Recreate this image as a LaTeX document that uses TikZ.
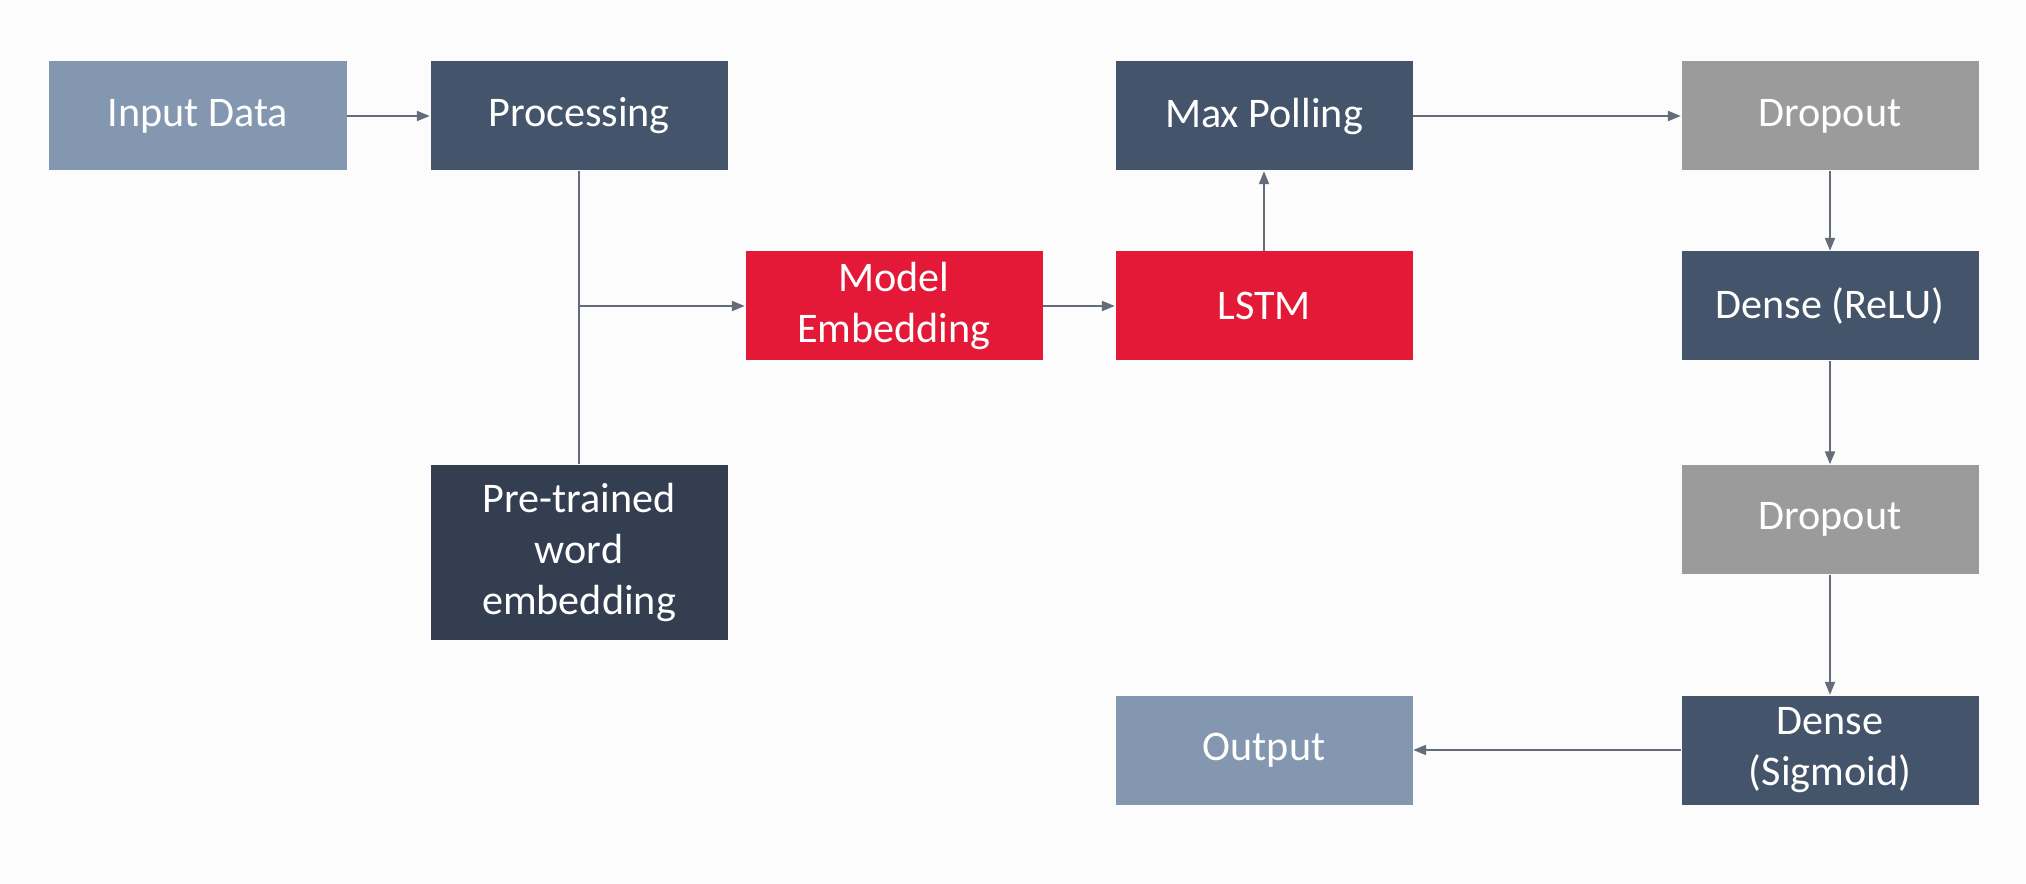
\documentclass[tikz,border=0pt]{standalone}
\usepackage{fontspec}
\setmainfont{Carlito}
\usetikzlibrary{arrows.meta}
\definecolor{slatelight}{HTML}{8497B0}
\definecolor{slatedark}{HTML}{44546A}
\definecolor{slatedeep}{HTML}{333F50}
\definecolor{layerred}{HTML}{E31937}
\definecolor{layergray}{HTML}{9B9B9B}
\definecolor{linkgray}{HTML}{646C7A}
\definecolor{pagebg}{HTML}{FCFCFC}
\begin{document}
\begin{tikzpicture}
[boxdecorate/.style={shape=rectangle,minimum width=2.97cm,minimum height=1.09cm,
  inner sep=0pt,align=center,text=white,font=\fontsize{12}{14.4}\selectfont},%
  linedecorate/.style={-,line width=0.6pt,draw=linkgray},%
  arrowdecorate/.style={-{Triangle[length=1.3mm,width=1mm]},line width=0.6pt,draw=linkgray,fill=linkgray}]
\useasboundingbox (0,0) rectangle (20.26,-8.84);
\fill[pagebg] (0,0) rectangle (20.26,-8.84);
%% nodes or layers
\foreach \nodename/\x/\y/\col/\txt in {input/1.98/-1.16/slatelight/Input Data,
  processing/5.79/-1.16/slatedark/Processing,
  embedding/8.94/-3.06/layerred/{Model\\Embedding},
  lstm/12.64/-3.06/layerred/LSTM, maxpool/12.64/-1.16/slatedark/Max Polling,
  dropoutA/18.30/-1.16/layergray/Dropout,
  denserelu/18.30/-3.06/slatedark/Dense (ReLU),
  dropoutB/18.30/-5.195/layergray/Dropout,
  densesig/18.30/-7.50/slatedark/{Dense\\(Sigmoid)},
  output/12.64/-7.50/slatelight/Output} {
  \node (\nodename) at (\x,\y) [boxdecorate,fill=\col] {\txt};
}
\node (pretrained) at (5.79,-5.525) [boxdecorate,fill=slatedeep,minimum height=1.75cm]
  {Pre-trained\\word\\embedding};
%% edges or arrows
\path
\foreach \startnode/\endnode in {input/processing, embedding/lstm,
  lstm/maxpool, maxpool/dropoutA, dropoutA/denserelu, denserelu/dropoutB,
  dropoutB/densesig, densesig/output} {
  (\startnode) edge[arrowdecorate] (\endnode)
};
\draw[linedecorate] (processing) -- (pretrained);
\coordinate (branch) at (processing.south |- embedding.west);
\draw[arrowdecorate] (branch) -- (embedding);
\end{tikzpicture}
\end{document}
